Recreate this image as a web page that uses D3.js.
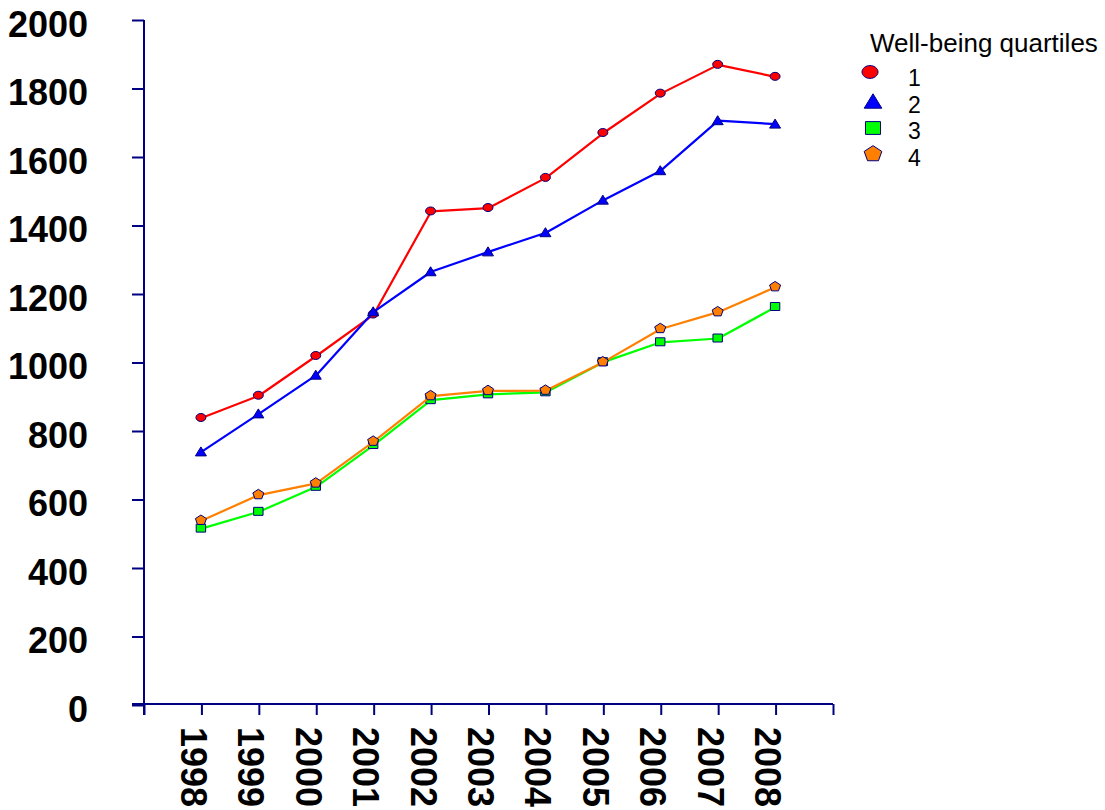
<!DOCTYPE html>
<html>
<head>
<meta charset="utf-8">
<script src="https://cdn.jsdelivr.net/npm/d3@7"></script>
<style>
  html, body { margin: 0; padding: 0; background: #fff; }
  svg { display: block; font-family: Arial, "Liberation Sans", sans-serif; }
</style>
</head>
<body>
<svg id="chart" width="1105" height="810"></svg>
<script>
const years = [1998, 1999, 2000, 2001, 2002, 2003, 2004, 2005, 2006, 2007, 2008];
const q1 = [838, 903, 1019, 1140, 1441, 1451, 1539, 1670, 1785, 1869, 1834];
const q2 = [739, 850, 963, 1148, 1265, 1323, 1379, 1474, 1560, 1706, 1696];
const q3 = [515, 564, 637, 759, 890, 907, 913, 1001, 1059, 1070, 1162];
const q4 = [538, 613, 647, 769, 902, 917, 918, 1001, 1098, 1147, 1220];
const seriesNames = ["1", "2", "3", "4"];
const yTicks = [0, 200, 400, 600, 800, 1000, 1200, 1400, 1600, 1800, 2000];
const legendTitle = "Well-being quartiles";

const colors = ["#ff0000", "#0000ff", "#00ff00", "#ff8000"];
const shapes = ["circle", "triangle", "square", "pentagon"];
const axisColor = "#000080";
const seriesValues = [q1, q2, q3, q4];

const svg = d3.select("#chart");
const x = d3.scaleLinear().domain([1997, 2009]).range([144, 833]);
const y = d3.scaleLinear().domain([0, 2000]).range([705, 20]);

// marker path generator
function markerPath(shape, s) {
  const p = d3.path();
  if (shape === "circle") {
    const rx = 5 * s, ry = 4 * s;
    const k = 0.5523;
    p.moveTo(rx, 0);
    p.bezierCurveTo(rx, ry * k, rx * k, ry, 0, ry);
    p.bezierCurveTo(-rx * k, ry, -rx, ry * k, -rx, 0);
    p.bezierCurveTo(-rx, -ry * k, -rx * k, -ry, 0, -ry);
    p.bezierCurveTo(rx * k, -ry, rx, -ry * k, rx, 0);
    p.closePath();
  } else if (shape === "triangle") {
    const w = 5.5 * s, h = 4.5 * s;
    p.moveTo(0, -h);
    p.lineTo(w, h);
    p.lineTo(-w, h);
    p.closePath();
  } else if (shape === "square") {
    const w = 4.7 * s, h = 4 * s;
    p.rect(-w, -h, 2 * w, 2 * h);
  } else {
    const r = 5.8 * s;
    for (let i = 0; i < 5; i++) {
      const a = -Math.PI / 2 + i * 2 * Math.PI / 5;
      const px = r * Math.cos(a), py = r * Math.sin(a) * 0.9;
      if (i === 0) p.moveTo(px, py); else p.lineTo(px, py);
    }
    p.closePath();
  }
  return p.toString();
}

// Axes
const yAxis = d3.axisLeft(y).tickValues(yTicks).tickSize(12).tickSizeOuter(0).tickFormat(d3.format("d"));
const gy = svg.append("g").attr("transform", "translate(144,0)").call(yAxis);
gy.select(".domain").remove();
gy.selectAll(".tick line").attr("stroke", axisColor).attr("stroke-width", 2);
gy.selectAll(".tick text")
  .attr("x", -56)
  .attr("dy", 0)
  .attr("y", 16)
  .attr("fill", "#000")
  .style("font-size", "36px")
  .style("font-weight", "bold")
  .style("font-family", "Arial, 'Liberation Sans', sans-serif");

const xTickVals = d3.range(1997, 2010);
const xAxis = d3.axisBottom(x).tickValues(xTickVals).tickSize(11).tickSizeOuter(0)
  .tickFormat(d => years.includes(d) ? String(d) : "");
const gx = svg.append("g").attr("transform", "translate(0,704)").call(xAxis);
gx.select(".domain").remove();
gx.selectAll(".tick line").attr("stroke", axisColor).attr("stroke-width", 2);
gx.selectAll(".tick text")
  .attr("y", 0).attr("x", 0)
  .attr("text-anchor", "start")
  .attr("transform", "translate(0,23) rotate(90)")
  .attr("dy", "21px")
  .attr("fill", "#000")
  .style("font-size", "36px")
  .style("font-weight", "bold")
  .style("font-family", "Arial, 'Liberation Sans', sans-serif");

// axis lines
svg.append("line").attr("x1", 144).attr("x2", 144).attr("y1", y(2000)).attr("y2", 715)
  .attr("stroke", axisColor).attr("stroke-width", 2);
svg.append("line").attr("x1", 132).attr("x2", 833).attr("y1", 704).attr("y2", 704)
  .attr("stroke", axisColor).attr("stroke-width", 2);

// Series
const line = d3.line().x((d, i) => x(years[i])).y(d => y(d));
seriesValues.forEach((vals, si) => {
  const g = svg.append("g");
  g.append("path").attr("d", line(vals)).attr("fill", "none")
    .attr("stroke", colors[si]).attr("stroke-width", 2.2).attr("stroke-linejoin", "round");
  g.selectAll("path.m").data(vals).enter().append("path").attr("class", "m")
    .attr("d", markerPath(shapes[si], 1))
    .attr("transform", (d, i) => `translate(${x(years[i]) - 0.5},${y(d) - 0.5})`)
    .attr("fill", colors[si]).attr("stroke", axisColor).attr("stroke-width", 1);
});

// Legend
const legend = svg.append("g");
legend.append("text").attr("x", 870).attr("y", 52).text(legendTitle)
  .style("font-size", "26px").attr("fill", "#000");
const legMarkerPos = [[870, 72], [873, 101], [873, 128], [873, 154]];
seriesNames.forEach((name, i) => {
  legend.append("path").attr("d", markerPath(shapes[i], 1.6))
    .attr("transform", `translate(${legMarkerPos[i][0]},${legMarkerPos[i][1]})`)
    .attr("fill", colors[i]).attr("stroke", axisColor).attr("stroke-width", 1);
  legend.append("text").attr("x", 908).attr("y", 86 + i * 26.7).text(name)
    .style("font-size", "23px").attr("fill", "#000");
});
</script>
</body>
</html>
